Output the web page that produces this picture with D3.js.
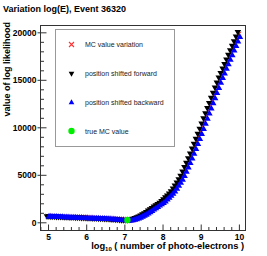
<!DOCTYPE html>
<html>
<head>
<meta charset="utf-8">
<script src="https://cdn.jsdelivr.net/npm/d3@7"></script>
<style>
  body { margin: 0; background: #fff; }
  text { font-family: "Liberation Sans", Arial, sans-serif; }
</style>
</head>
<body>
<script>
// chart size
var width = 267,
    height = 256;

// scan points: log10(number of photo-electrons)
var logNpe = d3.range(101).map(function(i) { return +(5 + i * 0.05).toFixed(2); });

// likelihood for the MC value variation
var mcValues = [650, 642, 634, 625, 617, 609, 600, 592, 584, 575,
  567, 559, 550, 542, 534, 525, 517, 509, 500, 492,
  484, 475, 467, 459, 450, 442, 434, 425, 417, 409,
  400, 388, 375, 362, 348, 334, 319, 303, 287, 270,
  255, 243, 240, 252, 285, 340, 410, 490, 580, 680,
  790, 910, 1040, 1170, 1310, 1450, 1590, 1730, 1870, 2010,
  2150, 2340, 2540, 2740, 2940, 3150, 3430, 3730, 4050, 4370,
  4700, 5140, 5590, 6050, 6520, 7000, 7510, 8030, 8550, 9070,
  9600, 10140, 10680, 11220, 11760, 12300, 12840, 13380, 13920, 14460,
  15000, 15480, 15960, 16440, 16920, 17400, 17880, 18360, 18840, 19320,
  19800];

// likelihood with the position shifted forward
var forwardValues = [646, 638, 630, 621, 613, 605, 596, 588, 580, 571,
  563, 555, 546, 538, 530, 521, 513, 505, 496, 488,
  480, 471, 463, 455, 446, 438, 430, 421, 413, 405,
  394, 382, 369, 355, 341, 327, 311, 295, 279, 262,
  249, 241, 246, 268, 312, 375, 450, 535, 630, 735,
  850, 975, 1105, 1240, 1380, 1520, 1660, 1800, 1940, 2080,
  2245, 2440, 2640, 2840, 3045, 3290, 3580, 3890, 4210, 4535,
  4920, 5365, 5820, 6285, 6760, 7255, 7770, 8290, 8810, 9335,
  9870, 10410, 10950, 11490, 12030, 12570, 13110, 13650, 14190, 14730,
  15240, 15720, 16200, 16680, 17160, 17640, 18120, 18600, 19080, 19560,
  20040];

// likelihood with the position shifted backward
var backwardValues = [654, 646, 638, 629, 621, 613, 604, 596, 588, 579,
  571, 563, 554, 546, 538, 529, 521, 513, 504, 496,
  488, 479, 471, 463, 454, 446, 438, 429, 421, 413,
  405, 394, 382, 369, 355, 341, 327, 311, 295, 279,
  262, 249, 241, 246, 268, 312, 375, 450, 535, 630,
  735, 850, 975, 1105, 1240, 1380, 1520, 1660, 1800, 1940,
  2080, 2245, 2440, 2640, 2840, 3045, 3290, 3580, 3890, 4210,
  4535, 4920, 5365, 5820, 6285, 6760, 7255, 7770, 8290, 8810,
  9335, 9870, 10410, 10950, 11490, 12030, 12570, 13110, 13650, 14190,
  14730, 15240, 15720, 16200, 16680, 17160, 17640, 18120, 18600, 19080,
  19560];

// true MC value
var trueX = [7.08];
var trueY = [240];

var xTicks = [5, 6, 7, 8, 9, 10];
var yTicks = [0, 5000, 10000, 15000, 20000];
var legendLabels = ["MC value variation", "position shifted forward",
  "position shifted backward", "true MC value"];

// frame of the plot
var frame = { left: 40, right: 245, top: 25, bottom: 230 };

var x = d3.scaleLinear().domain([4.79, 10.16]).range([frame.left, frame.right]);
var y = d3.scaleLinear().domain([-810, 20770]).range([frame.bottom, frame.top]);

var svg = d3.select("body")
    .append("svg")
    .attr("width", width)
    .attr("height", height);

// title
svg.append("text")
    .attr("x", 3)
    .attr("y", 12)
    .style("font-size", "9px")
    .style("font-weight", "bold")
    .text("Variation log(E), Event 36320");

// frame box
svg.append("rect")
    .attr("x", frame.left + 0.5)
    .attr("y", frame.top + 0.5)
    .attr("width", frame.right - frame.left)
    .attr("height", frame.bottom - frame.top)
    .attr("fill", "none")
    .attr("stroke", "#333")
    .attr("stroke-width", 1);

function styleLabels(g) {
  g.select(".domain").remove();
  g.selectAll("text")
    .style("font-size", "8.5px")
    .style("font-weight", "bold")
    .style("font-family", "'Liberation Sans', Arial, sans-serif")
    .attr("fill", "#000");
}

// y axis: minor ticks inside, major ticks crossing the frame line
var yMinor = d3.range(0, 20001, 1000).filter(function(v) { return v % 5000 !== 0; });
svg.append("g")
    .attr("transform", "translate(" + (frame.left + 0.5) + ",0)")
    .call(d3.axisLeft(y).tickValues(yMinor).tickSize(-3.5).tickFormat(""))
    .call(function(g) { g.select(".domain").remove(); });
svg.append("g")
    .attr("transform", "translate(" + (frame.left + 0.5) + ",0)")
    .call(d3.axisLeft(y).tickValues(yTicks).tickSize(3).tickFormat(""))
    .call(function(g) { g.select(".domain").remove(); });
svg.append("g")
    .attr("transform", "translate(" + (frame.left + 0.5) + ",0)")
    .call(d3.axisLeft(y).tickValues(yTicks).tickSize(-6).tickPadding(4).tickFormat(d3.format("d")))
    .call(styleLabels);

// x axis
var xMinor = d3.range(4.8, 10.15, 0.2).map(function(v) { return +v.toFixed(1); })
    .filter(function(v) { return Math.abs(v - Math.round(v)) > 0.01; });
svg.append("g")
    .attr("transform", "translate(0," + (frame.bottom + 0.5) + ")")
    .call(d3.axisBottom(x).tickValues(xMinor).tickSize(-3.5).tickFormat(""))
    .call(function(g) { g.select(".domain").remove(); });
svg.append("g")
    .attr("transform", "translate(0," + (frame.bottom + 0.5) + ")")
    .call(d3.axisBottom(x).tickValues(xTicks).tickSize(-6).tickPadding(3.5).tickFormat(d3.format("d")))
    .call(styleLabels);
svg.selectAll(".tick line").attr("stroke", "#333");

// axis titles
var xTitle = svg.append("text")
    .attr("x", frame.right - 1)
    .attr("y", 249)
    .attr("text-anchor", "end")
    .style("font-size", "9.3px")
    .style("font-weight", "bold");
xTitle.append("tspan").text("log");
xTitle.append("tspan").attr("dy", 2.2).style("font-size", "6px").text("10");
xTitle.append("tspan").attr("dy", -2.2).text(" ( number of photo-electrons )");

svg.append("text")
    .attr("transform", "translate(9.5,22) rotate(-90)")
    .attr("text-anchor", "end")
    .style("font-size", "9px")
    .style("font-weight", "bold")
    .text("value of log likelihood");

// markers
var points = function(ys) {
  return logNpe.map(function(v, i) { return [v, ys[i]]; });
};
var crossPath = function(d) {
  var cx = x(d[0]), cy = y(d[1]), r = 2.3;
  return "M" + (cx - r) + "," + (cy - r) + "L" + (cx + r) + "," + (cy + r) +
         "M" + (cx - r) + "," + (cy + r) + "L" + (cx + r) + "," + (cy - r);
};
var tri = d3.symbol().type(d3.symbolTriangle).size(19);
var triSmall = d3.symbol().type(d3.symbolTriangle).size(14);

svg.append("g").selectAll("path")
    .data(points(mcValues))
    .enter().append("path")
    .attr("d", crossPath)
    .attr("stroke", "#ff3333")
    .attr("stroke-width", 1)
    .attr("fill", "none");

svg.append("g").selectAll("path")
    .data(points(forwardValues))
    .enter().append("path")
    .attr("d", tri)
    .attr("transform", function(d) { return "translate(" + (x(d[0]) - 1) + "," + y(d[1]) + ") rotate(180)"; })
    .attr("fill", "#000");

svg.append("g").selectAll("path")
    .data(points(backwardValues))
    .enter().append("path")
    .attr("d", tri)
    .attr("transform", function(d) { return "translate(" + (x(d[0]) + 1) + "," + (y(d[1]) + 0.5) + ")"; })
    .attr("fill", "#0000ff");

svg.append("g").selectAll("circle")
    .data(trueX.map(function(v, i) { return [v, trueY[i]]; }))
    .enter().append("circle")
    .attr("cx", function(d) { return x(d[0]); })
    .attr("cy", function(d) { return y(d[1]); })
    .attr("r", 3.2)
    .attr("fill", "#00ee00");

// legend
var legend = svg.append("g");
legend.append("rect")
    .attr("x", 55.5)
    .attr("y", 29.5)
    .attr("width", 119)
    .attr("height", 117)
    .attr("fill", "#fff")
    .attr("stroke", "#999")
    .attr("stroke-width", 1);

var rowY = [44.5, 73.5, 102.5, 131];
var rows = legend.selectAll(".row")
    .data(legendLabels)
    .enter().append("g")
    .attr("class", "row")
    .attr("transform", function(d, i) { return "translate(71.5," + rowY[i] + ")"; });

rows.append("text")
    .attr("x", 13.5)
    .attr("y", 2.5)
    .style("font-size", "7px")
    .attr("fill", "#222")
    .text(function(d) { return d; });

rows.filter(function(d, i) { return i === 0; }).append("path")
    .attr("d", "M-2.5,-2.5L2.5,2.5M-2.5,2.5L2.5,-2.5")
    .style("fill", "none")
    .style("stroke", "#ff3333")
    .style("stroke-width", "1.1px");
rows.filter(function(d, i) { return i === 1; }).append("path")
    .attr("d", triSmall)
    .attr("transform", "rotate(180)")
    .attr("fill", "#000");
rows.filter(function(d, i) { return i === 2; }).append("path")
    .attr("d", triSmall)
    .attr("fill", "#0000ff");
rows.filter(function(d, i) { return i === 3; }).append("circle")
    .attr("r", 3.2)
    .attr("fill", "#00ee00");
</script>
</body>
</html>
